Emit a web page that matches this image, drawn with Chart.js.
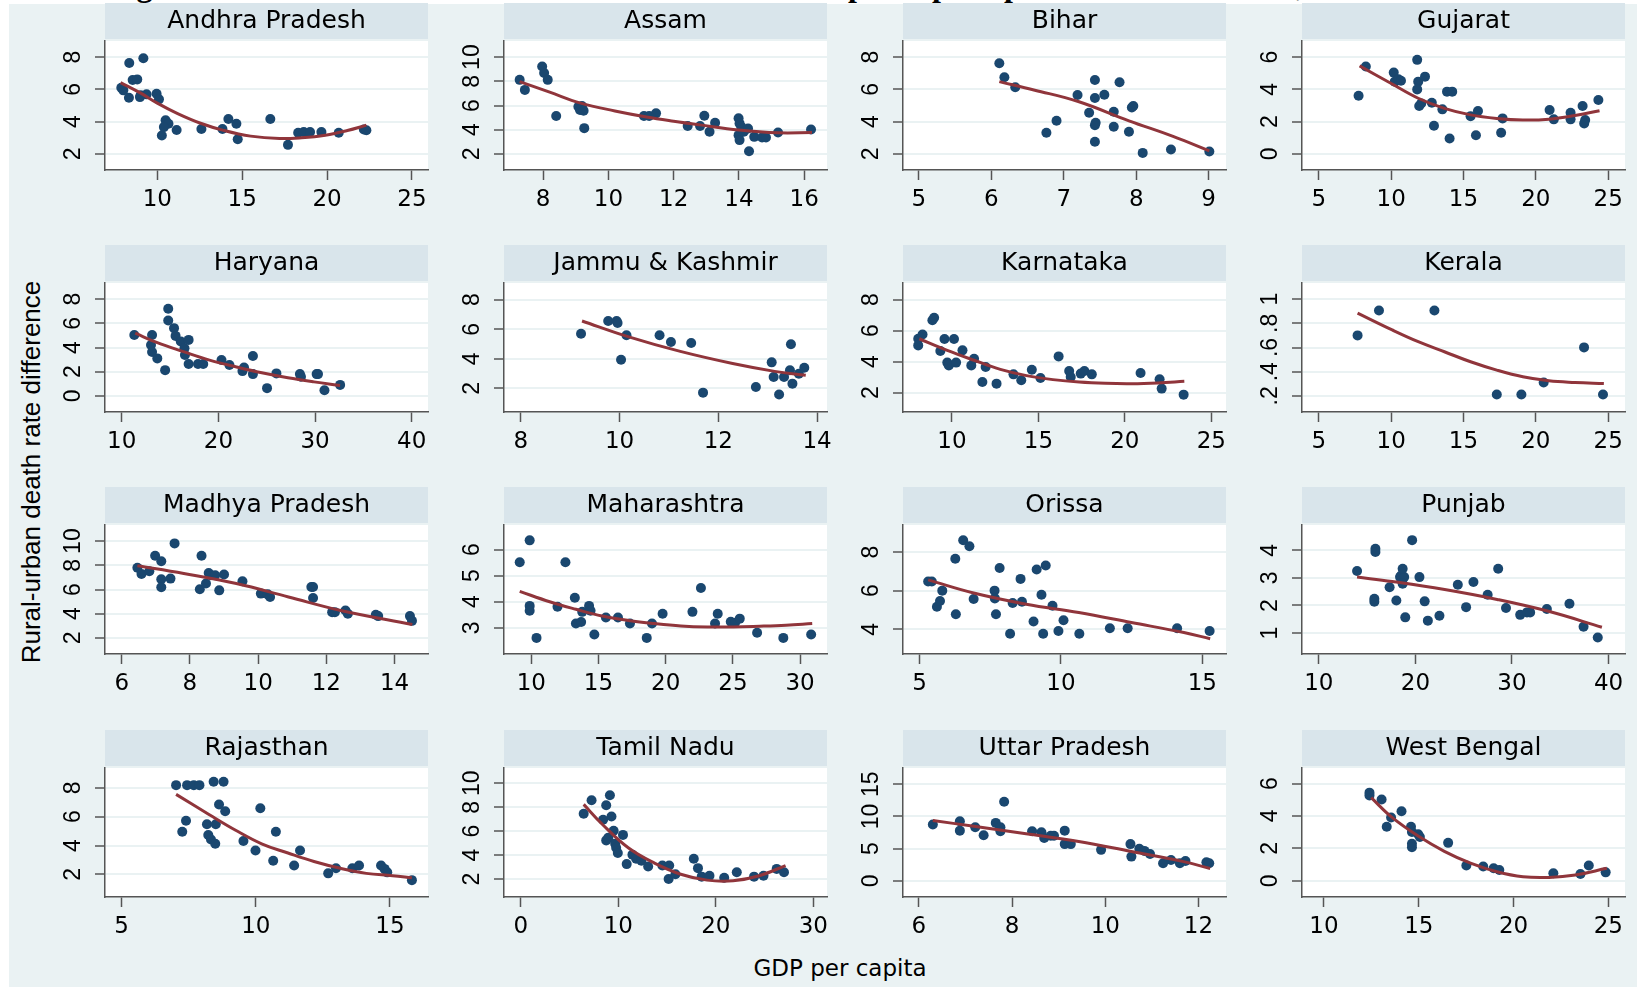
<!DOCTYPE html>
<html>
<head>
<meta charset="utf-8">
<title>Rural-urban death rate difference and GDP per capita</title>
<script src="https://cdn.jsdelivr.net/npm/chart.js@4.4.0/dist/chart.umd.min.js"></script>
<style>
  body { margin: 0; width: 1637px; height: 987px; background: #ffffff; position: relative; overflow: hidden; }
  #figTitle { position: absolute; left: 108px; top: -31px; font: bold 32px "Liberation Serif"; line-height: 32px; white-space: nowrap; color: #000; }
  #frame { position: absolute; left: 9px; top: 4px; right: 0; bottom: 0; background: #eaf2f3; }
  canvas { position: absolute; }
  #yTitle { position: absolute; left: 31px; top: 472px; transform: translate(-50%, -50%) rotate(-90deg); font: 26px "Liberation Sans"; white-space: nowrap; color: #000; }
  #xTitle { position: absolute; left: 840px; top: 968px; transform: translate(-50%, -50%); font: 23px "DejaVu Sans"; white-space: nowrap; color: #000; }
</style>
</head>
<body>
<div id="figTitle">Figure 4: Rural-urban death rate difference and GDP per capita: panel of Indian states, 1983-2003</div>
<div id="frame"></div>
<div id="yTitle">Rural-urban death rate difference</div>
<div id="xTitle">GDP per capita</div>

<script>
// States, one panel each
const states = ['Andhra Pradesh', 'Assam', 'Bihar', 'Gujarat', 'Haryana', 'Jammu & Kashmir', 'Karnataka', 'Kerala',
  'Madhya Pradesh', 'Maharashtra', 'Orissa', 'Punjab', 'Rajasthan', 'Tamil Nadu', 'Uttar Pradesh', 'West Bengal'];

// Observations: [GDP per capita, rural-urban death rate difference]
const andhraPoints = [[7.88,6.10],[8.00,5.94],[8.35,7.64],[8.33,5.48],[8.55,6.58],[8.82,6.62],[8.98,5.52],[9.18,7.93],[9.02,5.64],[9.37,5.69],[9.96,5.73],[10.10,5.38],[10.49,4.08],[10.66,3.87],[10.39,3.66],[10.27,3.14],[11.14,3.48],[12.60,3.54],[13.84,3.54],[14.19,4.16],[14.66,3.87],[14.74,2.91],[16.66,4.16],[17.70,2.56],[18.30,3.31],[18.63,3.35],[19.00,3.35],[19.67,3.35],[20.69,3.31],[22.17,3.51],[22.32,3.47]];
const assamPoints = [[7.28,8.12],[7.44,7.29],[7.97,9.23],[8.03,8.68],[8.14,8.12],[8.40,5.13],[9.08,5.90],[9.13,5.63],[9.19,5.96],[9.24,5.57],[9.26,4.13],[11.09,5.13],[11.25,5.13],[11.46,5.35],[12.43,4.30],[12.81,4.30],[12.94,5.16],[13.10,3.83],[13.27,4.58],[13.99,4.94],[14.02,4.52],[14.07,4.24],[13.99,3.55],[14.02,3.14],[14.15,3.83],[14.28,4.10],[14.31,2.22],[14.47,3.41],[14.71,3.36],[14.83,3.36],[15.20,3.77],[16.21,4.02]];
const biharPoints = [[6.11,7.62],[6.18,6.75],[6.33,6.13],[6.76,3.31],[6.90,4.05],[7.19,5.65],[7.43,6.58],[7.43,5.46],[7.56,5.67],[7.35,4.55],[7.43,3.78],[7.44,3.93],[7.43,2.75],[7.69,4.61],[7.69,3.68],[7.77,6.44],[7.90,3.37],[7.94,4.88],[7.96,4.97],[8.09,2.06],[8.48,2.27],[9.01,2.15]];
const gujaratPoints = [[7.75,3.61],[8.25,5.42],[10.18,5.04],[10.25,4.48],[10.50,4.63],[10.68,4.54],[11.80,5.83],[11.87,4.48],[11.80,4.00],[11.94,2.97],[12.08,3.13],[12.34,4.79],[12.81,3.17],[12.96,1.74],[13.54,2.76],[13.86,3.86],[14.22,3.86],[14.04,0.95],[15.49,2.34],[16.00,2.66],[15.86,1.16],[17.70,2.20],[17.60,1.31],[20.95,2.72],[21.24,2.14],[22.40,2.55],[22.40,2.14],[23.23,2.97],[23.41,2.10],[23.34,1.89],[24.32,3.34]];
const haryanaPoints = [[11.30,5.04],[13.14,5.04],[13.03,4.21],[13.14,3.63],[13.68,3.10],[14.49,2.13],[14.81,7.20],[14.81,6.23],[15.41,5.60],[15.57,4.96],[16.11,4.49],[16.49,3.93],[16.54,3.38],[16.92,4.63],[16.92,2.63],[17.89,2.63],[18.43,2.63],[20.32,2.96],[21.14,2.55],[22.49,2.05],[22.65,2.35],[23.57,3.30],[23.57,1.80],[25.03,0.64],[26.00,1.86],[28.43,1.80],[28.54,1.58],[30.16,1.80],[30.30,1.80],[30.97,0.47],[32.59,0.91]];
const jkPoints = [[9.22,5.70],[9.77,6.56],[9.94,6.56],[9.96,6.42],[10.03,3.94],[10.14,5.59],[10.81,5.59],[11.04,5.14],[11.45,5.07],[11.69,1.71],[12.76,2.09],[13.08,3.76],[13.12,2.77],[13.23,1.59],[13.33,2.77],[13.47,4.98],[13.45,3.22],[13.50,2.32],[13.63,2.99],[13.74,3.40]];
const karnatakaPoints = [[8.05,5.48],[8.05,5.05],[8.30,5.76],[8.87,6.67],[8.97,6.84],[9.33,4.69],[9.57,5.46],[9.73,3.94],[9.82,3.76],[10.12,5.46],[10.24,3.94],[10.61,4.73],[11.12,3.76],[11.28,4.19],[11.76,2.69],[11.95,3.66],[12.58,2.58],[13.56,3.18],[14.01,2.80],[14.62,3.48],[15.12,2.95],[16.17,4.34],[16.78,3.40],[16.87,3.01],[17.45,3.23],[17.66,3.40],[18.09,3.18],[20.91,3.27],[22.01,2.86],[22.13,2.26],[23.40,1.87]];
const keralaPoints = [[7.68,0.70],[9.16,0.906],[12.99,0.906],[17.30,0.211],[19.00,0.211],[20.54,0.311],[23.33,0.601],[24.64,0.211]];
const madhyaPoints = [[6.46,7.79],[6.58,7.29],[6.81,7.51],[6.98,8.79],[7.16,8.34],[7.16,6.85],[7.16,6.18],[7.43,6.90],[7.55,9.81],[8.29,6.02],[8.34,8.79],[8.47,6.49],[8.55,7.37],[8.61,7.18],[8.74,7.18],[8.86,5.93],[9.00,7.24],[9.54,6.68],[10.08,5.66],[10.28,5.60],[10.35,5.38],[11.56,6.21],[11.61,6.21],[11.61,5.30],[12.17,4.13],[12.25,4.13],[12.56,4.27],[12.63,3.99],[13.45,3.91],[13.52,3.80],[14.45,3.80],[14.51,3.41]];
const maharashtraPoints = [[9.14,5.52],[9.88,6.36],[9.88,3.84],[9.88,3.65],[10.39,2.61],[11.95,3.81],[12.54,5.52],[13.24,4.15],[13.32,3.16],[13.71,3.22],[13.79,3.61],[14.30,3.84],[14.41,3.65],[14.69,2.74],[15.55,3.39],[16.45,3.39],[17.34,3.16],[18.59,2.61],[18.98,3.16],[19.77,3.54],[21.99,3.61],[22.62,4.53],[23.67,3.16],[23.87,3.54],[24.84,3.23],[25.16,3.19],[25.51,3.35],[26.80,2.81],[28.75,2.61],[30.82,2.74]];
const orissaPoints = [[5.30,6.47],[5.43,6.47],[5.61,5.17],[5.72,5.46],[5.80,6.00],[6.28,4.78],[6.26,7.65],[6.54,8.61],[6.76,8.30],[6.91,5.57],[7.65,6.00],[7.66,5.60],[7.70,4.78],[7.83,7.17],[8.20,3.77],[8.29,5.36],[8.57,6.61],[8.62,5.43],[9.03,4.40],[9.14,7.10],[9.31,5.79],[9.37,3.77],[9.46,7.30],[9.70,5.22],[9.91,3.91],[10.09,4.47],[10.65,3.77],[11.73,4.05],[12.36,4.05],[14.11,4.05],[15.26,3.91]];
const punjabPoints = [[13.96,3.25],[15.86,4.06],[15.86,3.94],[15.75,2.24],[15.75,2.14],[17.33,2.66],[18.03,2.18],[18.41,3.03],[18.52,3.09],[18.84,3.03],[18.68,2.79],[18.68,3.33],[18.95,1.57],[19.66,4.37],[20.42,3.03],[20.96,2.15],[21.29,1.45],[22.49,1.63],[24.39,2.75],[25.25,1.94],[26.01,2.85],[27.48,2.39],[28.57,3.33],[29.38,1.91],[30.85,1.66],[31.55,1.75],[31.88,1.75],[33.61,1.87],[35.95,2.06],[37.41,1.23],[38.88,0.84]];
const rajasthanPoints = [[7.03,8.19],[7.26,4.96],[7.40,5.72],[7.44,8.19],[7.69,8.19],[7.90,8.19],[8.18,5.48],[8.23,4.73],[8.33,4.42],[8.43,8.42],[8.49,4.12],[8.51,5.48],[8.63,6.85],[8.80,8.42],[8.86,6.38],[9.54,4.31],[9.99,3.65],[10.17,6.59],[10.65,2.94],[10.75,4.96],[11.43,2.61],[11.65,3.65],[12.70,2.07],[12.99,2.42],[13.60,2.42],[13.85,2.61],[14.67,2.61],[14.80,2.38],[14.90,2.14],[15.82,1.60]];
const tamilPoints = [[6.45,7.45],[7.26,8.58],[8.44,6.96],[8.76,8.16],[9.14,9.01],[9.30,7.22],[8.76,5.23],[8.98,5.46],[9.52,6.03],[9.68,4.95],[9.78,4.61],[9.95,4.18],[10.48,5.69],[10.86,3.25],[11.45,4.04],[11.83,3.70],[12.37,3.53],[13.06,3.05],[14.52,3.13],[15.16,2.00],[15.22,3.13],[15.86,2.40],[17.74,3.70],[18.17,2.91],[18.55,2.20],[19.35,2.28],[20.86,2.11],[22.15,2.57],[23.92,2.20],[24.89,2.28],[26.24,2.85],[26.99,2.57]];
const uttarPoints = [[6.30,8.73],[6.88,9.25],[6.88,7.79],[7.21,8.31],[7.39,7.06],[7.65,8.99],[7.75,8.31],[7.75,7.68],[7.83,12.28],[8.43,7.68],[8.63,7.53],[8.69,6.64],[8.83,7.00],[8.90,7.00],[9.13,7.79],[9.13,5.70],[9.26,5.70],[9.91,4.81],[10.54,5.70],[10.56,3.76],[10.73,4.97],[10.84,4.65],[10.96,4.18],[11.24,2.72],[11.41,3.24],[11.60,2.72],[11.72,3.08],[12.17,2.88],[12.23,2.72]];
const bengalPoints = [[12.40,5.44],[12.40,5.27],[13.04,5.02],[13.31,3.33],[13.54,3.91],[14.09,4.29],[14.59,3.33],[14.64,3.01],[14.64,2.28],[14.64,2.07],[14.97,2.87],[15.06,2.70],[16.55,2.34],[17.51,0.94],[18.40,0.88],[18.95,0.77],[19.25,0.67],[22.10,0.46],[23.53,0.42],[23.97,0.94],[24.86,0.52]];

// Fitted curves
const andhraFit = [[7.84,6.42],[9.0,5.78],[10.0,5.15],[11.2,4.5],[12.55,3.9],[13.9,3.46],[15.5,3.1],[17.2,2.95],[18.5,3.0],[19.9,3.16],[21.2,3.45],[22.32,3.78]];
const assamFit = [[7.28,7.98],[8.2,7.1],[9.15,6.2],[10.2,5.55],[11.17,5.05],[12.0,4.7],[12.8,4.4],[14.0,3.98],[15.2,3.75],[16.24,3.77]];
const biharFit = [[6.11,6.48],[6.6,5.95],[7.2,5.25],[7.9,4.05],[8.5,3.1],[9.01,2.19]];
const gujaratFit = [[7.82,5.46],[10.07,4.33],[11.87,3.45],[13.68,2.82],[15.49,2.42],[17.3,2.2],[19.1,2.1],[20.9,2.15],[22.7,2.38],[24.4,2.68]];
const haryanaFit = [[11.4,5.18],[13.68,4.4],[16.38,3.66],[19.08,2.96],[21.78,2.41],[24.49,1.91],[27.19,1.5],[29.89,1.16],[32.59,0.86]];
const jkFit = [[9.24,6.56],[10.17,5.5],[11.23,4.5],[12.29,3.68],[13.14,3.15],[13.77,2.88]];
const karnatakaFit = [[8.11,5.48],[9.73,4.73],[11.28,4.09],[12.8,3.5],[14.31,3.1],[15.84,2.84],[17.36,2.68],[18.88,2.6],[20.4,2.58],[21.92,2.63],[23.44,2.73]];
const keralaFit = [[7.68,0.884],[10.07,0.745],[11.87,0.648],[13.68,0.565],[15.49,0.482],[17.3,0.413],[19.1,0.358],[20.9,0.325],[22.7,0.311],[24.7,0.302]];
const madhyaFit = [[6.46,7.96],[7.82,7.32],[9.36,6.49],[10.89,5.38],[12.42,4.27],[14.52,3.11]];
const maharashtraFit = [[9.14,4.4],[11.37,4.0],[13.32,3.71],[15.27,3.45],[17.23,3.28],[19.18,3.16],[21.13,3.07],[23.09,3.03],[25.04,3.03],[26.99,3.06],[28.95,3.1],[30.9,3.16]];
const orissaFit = [[5.3,6.56],[6.91,5.88],[8.77,5.3],[10.63,4.87],[12.49,4.35],[14.35,3.83],[15.28,3.51]];
const punjabFit = [[13.96,3.03],[17.6,2.87],[23.03,2.58],[28.46,2.22],[33.88,1.78],[39.31,1.21]];
const rajasthanFit = [[7.03,7.55],[8.27,6.14],[9.25,5.06],[10.22,4.12],[11.2,3.48],[12.17,2.89],[13.15,2.42],[14.12,2.07],[15.1,1.91],[15.82,1.76]];
const tamilFit = [[6.45,8.24],[8.33,6.6],[11.02,4.61],[13.71,3.33],[16.4,2.4],[19.09,1.91],[21.77,1.86],[24.46,2.28],[27.15,3.13]];
const uttarFit = [[6.3,9.36],[7.18,8.47],[8.3,7.32],[9.43,6.12],[10.56,4.55],[11.68,2.98],[12.25,1.93]];
const bengalFit = [[12.49,5.13],[13.59,3.91],[14.97,2.76],[16.35,1.82],[17.73,1.09],[19.12,0.56],[20.5,0.25],[21.88,0.21],[23.26,0.36],[24.92,0.77]];

const allPoints = [andhraPoints, assamPoints, biharPoints, gujaratPoints, haryanaPoints, jkPoints, karnatakaPoints, keralaPoints,
  madhyaPoints, maharashtraPoints, orissaPoints, punjabPoints, rajasthanPoints, tamilPoints, uttarPoints, bengalPoints];
const allFits = [andhraFit, assamFit, biharFit, gujaratFit, haryanaFit, jkFit, karnatakaFit, keralaFit,
  madhyaFit, maharashtraFit, orissaFit, punjabFit, rajasthanFit, tamilFit, uttarFit, bengalFit];

// Tick values per panel
const xTicks = [[10,15,20,25],[8,10,12,14,16],[5,6,7,8,9],[5,10,15,20,25],
  [10,20,30,40],[8,10,12,14],[10,15,20,25],[5,10,15,20,25],
  [6,8,10,12,14],[10,15,20,25,30],[5,10,15],[10,20,30,40],
  [5,10,15],[0,10,20,30],[6,8,10,12],[10,15,20,25]];
const yTicks = [[2,4,6,8],[2,4,6,8,10],[2,4,6,8],[0,2,4,6],
  [0,2,4,6,8],[2,4,6,8],[2,4,6,8],[0.2,0.4,0.6,0.8,1],
  [2,4,6,8,10],[3,4,5,6],[4,6,8],[1,2,3,4],
  [2,4,6,8],[2,4,6,8,10],[0,5,10,15],[0,2,4,6]];

// Axis ranges per panel: [min, max]
const xRanges = [[6.92,25.95],[6.8,16.7],[4.78,9.24],[3.84,26.16],
  [8.27,41.68],[7.66,14.2],[7.17,25.85],[3.84,26.16],
  [5.51,14.98],[7.97,32.0],[4.41,15.84],[8.26,41.7],
  [4.38,16.42],[-1.72,31.4],[5.66,12.59],[8.84,25.88]];
const yRanges = [[1,9],[0.67,11.33],[1,9],[-1,7],
  [-1.33,9.33],[0.4,9.13],[0.75,9.08],[0.067,1.133],
  [0.67,11.33],[1.99,6.95],[2.72,9.4],[0.24,4.92],
  [0.43,9.38],[0.5,11.28],[-2.5,17.5],[-1,6.96]];

// Layout of the 4x4 grid (plot area corners)
const plotLefts = [105, 504, 903, 1302];
const plotTops = [41, 283, 525, 768];
const yAxisWidth = 50;
const titleHeight = 38;
const plotWidth = 323;
const plotHeight = 129;
const xAxisHeight = 50;

const axisColor = '#555555';
const tickFont = { family: "'DejaVu Sans'", size: 23 };
const yTickFont = { family: "'Liberation Sans'", size: 23 };

function formatY(v) {
  return (v > 0 && v < 1) ? String(v).replace('0.', '.') : String(v);
}

// Paints the header band and the white plot region
const panelBackground = {
  id: 'panelBackground',
  beforeDraw(chart) {
    const { ctx, chartArea } = chart;
    ctx.save();
    ctx.fillStyle = '#d9e5eb';
    ctx.fillRect(chartArea.left, 0, chartArea.right - chartArea.left, chartArea.top - 2);
    ctx.fillStyle = '#ffffff';
    ctx.fillRect(chartArea.left, chartArea.top, chartArea.right - chartArea.left, chartArea.bottom - chartArea.top);
    ctx.restore();
  }
};

const measureCtx = document.createElement('canvas').getContext('2d');
measureCtx.font = '23px "Liberation Sans"';

states.forEach((name, i) => {
  const row = Math.floor(i / 4);
  const col = i % 4;
  const canvas = document.createElement('canvas');
  canvas.width = yAxisWidth + plotWidth + 18;
  canvas.height = titleHeight + plotHeight + xAxisHeight;
  canvas.style.left = (plotLefts[col] - yAxisWidth) + 'px';
  canvas.style.top = (plotTops[row] - titleHeight) + 'px';
  document.body.appendChild(canvas);

  const widest = Math.max(...yTicks[i].map(v => measureCtx.measureText(formatY(v)).width));

  new Chart(canvas.getContext('2d'), {
    type: 'scatter',
    data: {
      datasets: [{
        data: allFits[i].map(p => ({ x: p[0], y: p[1] })),
        showLine: true,
        borderColor: '#90353b',
        borderWidth: 3,
        pointRadius: 0,
        tension: 0.4,
        fill: false
      }, {
        data: allPoints[i].map(p => ({ x: p[0], y: p[1] })),
        backgroundColor: '#1a476f',
        pointRadius: 5,
        pointBorderWidth: 0
      }]
    },
    options: {
      responsive: false,
      animation: false,
      devicePixelRatio: 1,
      layout: { padding: { left: 0, right: 18, top: 0, bottom: 0 } },
      plugins: {
        legend: { display: false },
        tooltip: { enabled: false },
        title: {
          display: true,
          text: name,
          fullSize: false,
          color: '#000000',
          font: { family: "'DejaVu Sans'", size: 25, weight: 'normal' },
          padding: { top: 3, bottom: 5 }
        }
      },
      scales: {
        x: {
          type: 'linear',
          min: xRanges[i][0],
          max: xRanges[i][1],
          afterBuildTicks: s => { s.ticks = xTicks[i].map(v => ({ value: v })); },
          afterFit: s => { s.height = xAxisHeight; },
          grid: { drawOnChartArea: false, drawTicks: true, tickLength: 10, tickColor: axisColor, tickWidth: 1.5 },
          border: { display: true, color: axisColor, width: 1.5 },
          ticks: { font: tickFont, color: '#000000', padding: 6, maxRotation: 0, autoSkip: false, callback: v => String(v) }
        },
        y: {
          type: 'linear',
          min: yRanges[i][0],
          max: yRanges[i][1],
          afterBuildTicks: s => { s.ticks = yTicks[i].map(v => ({ value: v })); },
          afterFit: s => { s.width = yAxisWidth; },
          grid: { color: '#eaf2f3', lineWidth: 2, tickLength: 10, tickColor: axisColor, tickWidth: 1.5 },
          border: { display: true, color: axisColor, width: 1.5 },
          ticks: {
            font: yTickFont,
            color: '#000000',
            minRotation: 90,
            maxRotation: 90,
            crossAlign: 'center',
            padding: 21 - widest / 2,
            autoSkip: false,
            callback: v => formatY(v)
          }
        }
      }
    },
    plugins: [panelBackground]
  });
});
</script>
</body>
</html>
